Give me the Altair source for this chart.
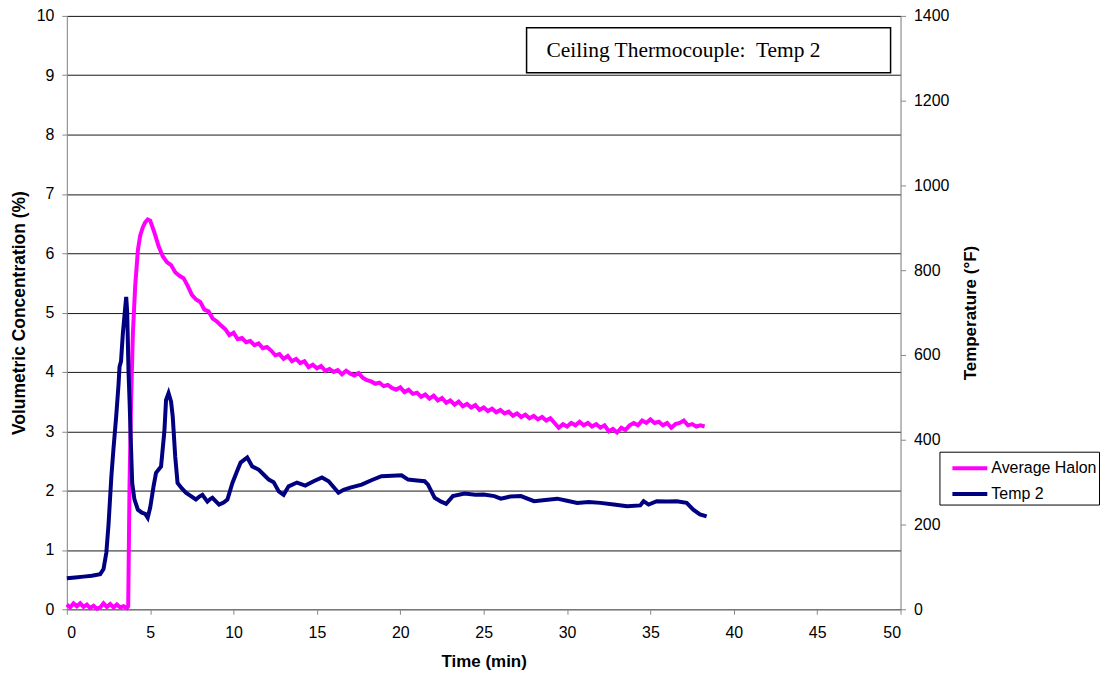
import altair as alt
import pandas as pd

# ---------------- data ----------------
halon_time = [0.0, 0.2, 0.4, 0.6, 0.8, 1.0, 1.2, 1.4, 1.6, 1.8, 2.0, 2.2, 2.4, 2.6, 2.8,
              3.0, 3.2, 3.4, 3.6, 3.68, 3.76, 3.86, 3.96, 4.1, 4.26, 4.4, 4.56, 4.7, 4.85,
              5.0, 5.25, 5.5, 5.75, 6.0, 6.25, 6.5, 6.75, 7.0, 7.25, 7.5, 7.75, 8.0, 8.25,
              8.5, 8.75, 9.0, 9.25, 9.5, 9.75, 10.0, 10.25, 10.5, 10.75, 11.0, 11.25, 11.5,
              11.75, 12.0, 12.25, 12.5, 12.75, 13.0, 13.25, 13.5, 13.75, 14.0, 14.25, 14.5,
              14.75, 15.0, 15.25, 15.5, 15.75, 16.0, 16.25, 16.5, 16.75, 17.0, 17.25, 17.5,
              17.75, 18.0, 18.25, 18.5, 18.75, 19.0, 19.25, 19.5, 19.75, 20.0, 20.25, 20.5,
              20.75, 21.0, 21.25, 21.5, 21.75, 22.0, 22.25, 22.5, 22.75, 23.0, 23.25, 23.5,
              23.75, 24.0, 24.25, 24.5, 24.75, 25.0, 25.25, 25.5, 25.75, 26.0, 26.25, 26.5,
              26.75, 27.0, 27.25, 27.5, 27.75, 28.0, 28.25, 28.5, 28.75, 29.0, 29.25, 29.5,
              29.75, 30.0, 30.25, 30.5, 30.75, 31.0, 31.25, 31.5, 31.75, 32.0, 32.25, 32.5,
              32.75, 33.0, 33.25, 33.5, 33.75, 34.0, 34.25, 34.5, 34.75, 35.0, 35.25, 35.5,
              35.75, 36.0, 36.25, 36.5, 36.75, 37.0, 37.25, 37.5, 37.75, 38.0, 38.25]
halon_conc = [0.08, 0.03, 0.10, 0.05, 0.10, 0.04, 0.08, 0.02, 0.06, 0.01, 0.03, 0.10, 0.04,
              0.09, 0.03, 0.08, 0.03, 0.05, 0.02, 0.05, 2.10, 3.60, 4.65, 5.45, 6.05, 6.30,
              6.44, 6.52, 6.57,
              6.55, 6.35, 6.12, 5.95, 5.85, 5.80, 5.68, 5.62, 5.58, 5.45, 5.30, 5.22, 5.18,
              5.05, 5.02, 4.90, 4.85, 4.78, 4.72, 4.62, 4.66, 4.55, 4.57, 4.50, 4.52, 4.45,
              4.48, 4.40, 4.42, 4.36, 4.28, 4.30, 4.22, 4.27, 4.18, 4.22, 4.15, 4.18, 4.08,
              4.12, 4.06, 4.10, 4.02, 4.05, 4.00, 4.03, 3.96, 4.02, 3.97, 3.94, 3.98, 3.90,
              3.86, 3.84, 3.80, 3.82, 3.76, 3.78, 3.73, 3.70, 3.74, 3.66, 3.70, 3.63, 3.65,
              3.58, 3.62, 3.55, 3.60, 3.52, 3.56, 3.48, 3.52, 3.45, 3.50, 3.42, 3.46, 3.40,
              3.44, 3.36, 3.40, 3.34, 3.38, 3.32, 3.36, 3.30, 3.33, 3.26, 3.30, 3.24, 3.28,
              3.22, 3.26, 3.20, 3.24, 3.18, 3.22, 3.14, 3.06, 3.12, 3.08, 3.14, 3.10, 3.16,
              3.10, 3.14, 3.08, 3.12, 3.06, 3.10, 3.00, 3.04, 2.98, 3.06, 3.02, 3.10, 3.14,
              3.10, 3.18, 3.14, 3.20, 3.14, 3.16, 3.10, 3.14, 3.06, 3.12, 3.14, 3.18, 3.10,
              3.12, 3.08, 3.10, 3.08]

temp_time = [0.0, 0.5, 1.0, 1.5, 2.0, 2.2, 2.37, 2.5, 2.67, 2.8, 2.96, 3.1, 3.16, 3.25, 3.36,
             3.45, 3.56, 3.62, 3.7, 3.76, 3.85, 3.92, 4.05, 4.26, 4.5, 4.7, 4.85, 5.0, 5.2,
             5.35, 5.65, 5.85, 5.95, 6.1, 6.25, 6.35, 6.5, 6.64, 6.9, 7.14, 7.4, 7.74, 7.95,
             8.13, 8.43, 8.6, 8.73, 9.13, 9.4, 9.63, 9.93, 10.2, 10.42, 10.82, 11.12, 11.52,
             11.8, 12.11, 12.4, 12.71, 13.0, 13.3, 13.8, 14.3, 14.8, 15.3, 15.7, 16.29, 16.6,
             17.0, 17.68, 18.3, 18.87, 19.5, 20.07, 20.47, 21.0, 21.46, 21.66, 22.06, 22.45,
             22.75, 23.15, 23.85, 24.5, 25.0, 25.64, 26.03, 26.6, 27.23, 28.02, 28.7, 29.41,
             30.0, 30.61, 31.3, 32.0, 32.8, 33.6, 34.39, 34.59, 34.89, 35.38, 36.0, 36.58,
             37.17, 37.57, 37.97, 38.37]
temp_degf = [73, 75, 77, 79, 83, 95, 134, 200, 313, 380, 455, 530, 572, 585, 651,
             690, 737, 700, 560, 494, 380, 298, 260, 235, 228, 225, 216, 240, 290,
             322, 337, 420, 494, 510, 490, 455, 360, 298, 285, 275, 268, 259, 266,
             270, 254, 260, 263, 247, 252, 259, 298, 325, 346, 358, 337, 329,
             318, 306, 300, 278, 270, 290, 299, 292, 302, 311, 302, 275, 282,
             287, 294, 305, 314, 315, 316, 306, 304, 302, 294, 263, 254,
             249, 267, 273, 270, 271, 267, 261, 266, 267, 255, 258, 261,
             256, 251, 253, 251, 247, 243, 245, 255, 247, 255, 254, 255,
             251, 235, 224, 219]

series_names = ["Average Halon", "Temp 2"]
series_colors = ["#FF00FF", "#000080"]
x_ticks = list(range(0, 51, 5))
left_ticks = list(range(0, 11))
right_ticks = list(range(0, 1401, 200))
annotation = "Ceiling Thermocouple:\u00a0 Temp 2"

halon_df = pd.DataFrame({"t": halon_time, "v": halon_conc})
temp_df = pd.DataFrame({"t": temp_time, "v": temp_degf})

FONT = "Liberation Sans, Arial, sans-serif"

x_enc = alt.X("t:Q",
              scale=alt.Scale(domain=[0, 50], nice=False, zero=False),
              axis=alt.Axis(values=x_ticks, title="Time (min)", grid=False,
                            tickSize=5, labelPadding=10, labelFontSize=16,
                            titleFontSize=17, titleX=418, titleY=52,
                            titleBaseline="middle"))

color_scale = alt.Scale(domain=series_names, range=series_colors)

halon = alt.Chart(halon_df).mark_line(strokeWidth=4, interpolate="linear").encode(
    x=x_enc,
    y=alt.Y("v:Q",
            scale=alt.Scale(domain=[0, 10], nice=False),
            axis=alt.Axis(values=left_ticks, title="Volumetric Concentration (%)",
                          orient="left", grid=True, gridColor="#000000", gridWidth=1,
                          gridOpacity=0.9, tickSize=5, labelPadding=8,
                          labelFontSize=16, titleFontSize=17.5, titleAngle=-90,
                          titleX=-47, titleY=297.5, titleAlign="center",
                          titleBaseline="middle")),
    color=alt.Color("s:N", scale=color_scale,
                    legend=alt.Legend(title=None, orient="none", legendX=875, legendY=437,
                                      direction="vertical", strokeColor="#000000",
                                      fillColor="#FFFFFF", padding=2, symbolOffset=14,
                                      symbolType="M-1.4,0H1.4", symbolSize=625,
                                      symbolStrokeWidth=4, labelOffset=7, rowPadding=3,
                                      labelFontSize=16, labelFont=FONT,
                                      labelColor="#000000", labelLimit=300)),
).transform_calculate(s="'Average Halon'")

temp = alt.Chart(temp_df).mark_line(strokeWidth=4, interpolate="linear").encode(
    x=x_enc,
    y=alt.Y("v:Q",
            scale=alt.Scale(domain=[0, 1400], nice=False),
            axis=alt.Axis(values=right_ticks, title="Temperature (°F)", format="d",
                          orient="right", grid=False, tickSize=5, labelPadding=8,
                          labelFontSize=16, titleFontSize=17, titleAngle=-90,
                          titleX=70, titleY=297.5, titleAlign="center",
                          titleBaseline="middle")),
    color=alt.Color("s:N", scale=color_scale),
).transform_calculate(s="'Temp 2'")

box_df = pd.DataFrame({"label": [annotation]})
box = alt.Chart(box_df).mark_rect(fill="#FFFFFF", stroke="#000000", strokeWidth=1.5).encode(
    x=alt.value(461), x2=alt.value(826), y=alt.value(12), y2=alt.value(57))
box_text = alt.Chart(box_df).mark_text(
    align="left", baseline="middle", font="Liberation Serif, Times New Roman, serif",
    fontSize=21.5, color="#000000").encode(
    x=alt.value(481), y=alt.value(35), text="label:N")

chart = alt.layer(halon, temp, box, box_text).resolve_scale(
    y="independent"
).properties(
    width=836, height=595,
    autosize=alt.AutoSizeParams(type="none"),
    padding={"left": 59, "top": 7, "right": 200, "bottom": 66},
).configure_view(strokeWidth=0).configure_axis(
    labelFont=FONT, titleFont=FONT, labelColor="#000000", titleColor="#000000",
    domainColor="#000000", tickColor="#000000", titleFontWeight="bold",
    domainWidth=1, tickWidth=1,
).configure(background="#FFFFFF")

chart.save("out.html", embed_options={"renderer": "svg", "actions": False})
